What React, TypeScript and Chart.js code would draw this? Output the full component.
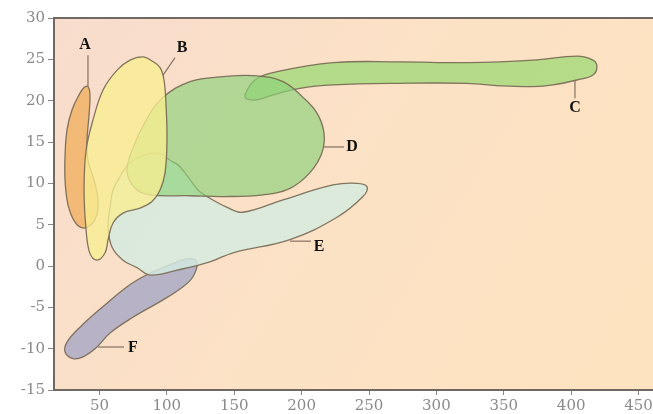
import React, { useEffect, useRef } from "react";
import { Chart, registerables } from "chart.js";

Chart.register(...registerables);

// Axis settings
const xMin = 16.3;
const xMax = 460.7;
const xTicks = [50, 100, 150, 200, 250, 300, 350, 400, 450];
const yMin = -15;
const yMax = 30;
const yStep = 5;

// Region outlines (data coordinates)
const aX = [41.5, 43.0, 42.3, 40.8, 41.5, 46.0, 49.0, 48.2, 43.8, 37.8, 31.9, 26.7, 24.5, 24.5, 26.0, 29.7, 34.9, 38.6];
const aY = [21.7, 20.7, 18.3, 15.2, 12.8, 10.4, 8.0, 6.2, 5.0, 4.6, 5.3, 7.4, 10.4, 13.4, 16.5, 18.9, 20.7, 21.6];

const bX = [82.3, 89.0, 95.0, 97.9, 99.4, 100.1, 98.7, 95.0, 89.0, 80.1, 67.5, 60.1, 56.4, 54.2, 48.2, 43.0, 40.1, 38.6, 40.1, 45.3, 52.7, 63.1, 72.7];
const bY = [25.3, 24.8, 24.0, 22.5, 19.5, 15.2, 11.3, 9.2, 7.8, 7.0, 6.4, 5.2, 3.2, 1.6, 0.7, 1.5, 4.4, 9.2, 14.0, 17.7, 21.3, 23.7, 24.9];

const cX = [158.0, 165.4, 181.8, 223.3, 273.0, 322.7, 371.7, 404.3, 416.2, 419.1, 416.2, 404.3, 386.5, 371.7, 347.2, 322.7, 273.0, 223.3, 198.8, 178.8, 166.9, 159.5];
const cY = [20.7, 22.5, 23.5, 24.6, 24.7, 24.6, 24.9, 25.4, 24.9, 24.1, 23.1, 22.5, 21.9, 21.7, 21.8, 22.1, 22.1, 21.9, 21.5, 20.7, 20.1, 20.2];

const dX = [117.2, 141.7, 166.9, 186.2, 201.0, 211.4, 216.6, 215.1, 206.2, 191.4, 171.4, 141.7, 117.2, 87.5, 76.4, 70.5, 74.2, 83.8, 96.4];
const dY = [22.3, 22.9, 23.0, 22.3, 20.4, 18.5, 16.1, 13.7, 11.3, 9.4, 8.6, 8.4, 8.5, 8.6, 9.4, 11.4, 14.0, 17.4, 20.3];

const eX = [85.3, 95.0, 102.4, 109.8, 123.1, 129.8, 144.7, 156.5, 186.2, 223.3, 241.1, 248.5, 245.5, 226.3, 191.4, 149.1, 132.0, 107.6, 87.5, 77.9, 67.5, 59.3, 56.4, 57.9, 60.1, 65.3, 72.7];
const eY = [13.5, 13.6, 12.8, 12.0, 9.2, 8.4, 7.1, 6.5, 8.0, 9.8, 10.0, 9.6, 8.4, 5.9, 3.2, 1.6, 0.5, -0.5, -1.1, -0.2, 0.7, 2.3, 4.7, 7.1, 9.2, 10.8, 12.5];

const fX = [122.4, 119.4, 112.0, 97.2, 74.9, 57.9, 48.2, 37.8, 30.4, 24.5, 26.0, 35.6, 52.7, 70.5, 82.3, 92.7, 107.6, 117.2];
const fY = [0.4, -1.3, -2.5, -4.1, -6.2, -8.1, -9.8, -11.0, -11.2, -10.4, -9.2, -7.4, -4.9, -2.5, -1.3, -0.5, 0.5, 0.9];

const regionNames = ["B", "A", "D", "C", "E", "F"];
const regionXs = [bX, aX, dX, cX, eX, fX];
const regionYs = [bY, aY, dY, cY, eY, fY];
const regionColors = [
  "rgba(248, 238, 145, 0.78)",
  "rgba(240, 176, 96, 0.8)",
  "rgba(140, 210, 122, 0.66)",
  "rgba(162, 218, 122, 0.8)",
  "rgba(212, 236, 224, 0.82)",
  "rgba(170, 170, 198, 0.85)",
];

// Labels and leader lines
const labelNames = ["A", "B", "C", "D", "E", "F"];
const labelX = [39.3, 111.3, 402.8, 237.4, 212.9, 74.9];
const labelY = [26.7, 26.4, 19.1, 14.4, 2.3, -9.9];
const leaderX1 = [41.5, 106.1, 402.8, 216.6, 191.4, 49.0];
const leaderY1 = [25.5, 25.2, 22.5, 14.4, 3.0, -9.8];
const leaderX2 = [41.5, 97.2, 402.8, 231.5, 207.0, 68.2];
const leaderY2 = [21.7, 23.1, 20.3, 14.4, 3.0, -9.8];

const AXIS_COLOR = "#6f6863";
const TICK_COLOR = "#8a8580";
const LABEL_GRAY = "#8a8a8a";

const backgroundPlugin = {
  id: "plotBackground",
  beforeDraw(chart: any) {
    const { ctx, chartArea } = chart;
    const g = ctx.createLinearGradient(chartArea.left, chartArea.top, chartArea.right, chartArea.bottom);
    g.addColorStop(0, "#f8dccd");
    g.addColorStop(0.5, "#fce2c5");
    g.addColorStop(1, "#fde3bf");
    ctx.save();
    ctx.fillStyle = g;
    ctx.fillRect(chartArea.left, chartArea.top, chartArea.right - chartArea.left, chartArea.bottom - chartArea.top);
    ctx.restore();
  },
  afterDraw(chart: any) {
    const { ctx, chartArea } = chart;
    ctx.save();
    ctx.strokeStyle = AXIS_COLOR;
    ctx.lineWidth = 2;
    ctx.beginPath();
    ctx.moveTo(chartArea.left - 1, chartArea.top);
    ctx.lineTo(chartArea.right, chartArea.top);
    ctx.stroke();
    ctx.restore();
  },
};

const loopPlugin = {
  id: "closedShapes",
  afterDatasetUpdate(chart: any, args: any) {
    const ds = chart.data.datasets[args.index];
    if (ds && ds.closedShape) {
      const meta = chart.getDatasetMeta(args.index);
      if (meta && meta.dataset) {
        meta.dataset._loop = true;
        meta.dataset._fullLoop = true;
      }
    }
  },
};

const textLabelPlugin = {
  id: "regionLabels",
  afterDatasetsDraw(chart: any) {
    const { ctx } = chart;
    const xs = chart.scales.x;
    const ys = chart.scales.y;
    ctx.save();
    ctx.fillStyle = "#111111";
    ctx.font = "bold 16px 'Liberation Serif', 'DejaVu Serif', serif";
    ctx.textAlign = "center";
    ctx.textBaseline = "middle";
    labelNames.forEach((name, i) => {
      ctx.fillText(name, xs.getPixelForValue(labelX[i]), ys.getPixelForValue(labelY[i]));
    });
    ctx.restore();
  },
};

export default function App() {
  const canvasRef = useRef<HTMLCanvasElement | null>(null);

  useEffect(() => {
    if (!canvasRef.current) return;

    const regionSets = regionNames.map((name, i) => ({
      label: name,
      data: regionXs[i].map((x, j) => ({ x, y: regionYs[i][j] })),
      showLine: true,
      closedShape: true,
      fill: "shape",
      backgroundColor: regionColors[i],
      borderColor: "rgba(118, 104, 82, 0.9)",
      borderWidth: 1.3,
      pointRadius: 0,
      tension: 0.4,
    }));

    const leaderSets = labelNames.map((name, i) => ({
      label: "leader " + name,
      data: [
        { x: leaderX1[i], y: leaderY1[i] },
        { x: leaderX2[i], y: leaderY2[i] },
      ],
      showLine: true,
      fill: false,
      borderColor: "rgba(130, 110, 95, 0.9)",
      borderWidth: 1.3,
      pointRadius: 0,
      tension: 0,
    }));

    const chart = new Chart(canvasRef.current, {
      type: "scatter",
      data: { datasets: [...leaderSets, ...regionSets] as any },
      options: {
        animation: false,
        responsive: false,
        events: [],
        layout: { padding: { top: 18, left: 0, right: 0, bottom: 0 } },
        plugins: {
          legend: { display: false },
          tooltip: { enabled: false },
        },
        scales: {
          x: {
            type: "linear",
            min: xMin,
            max: xMax,
            afterBuildTicks: (s: any) => {
              s.ticks = xTicks.map((v) => ({ value: v }));
            },
            afterFit: (s: any) => {
              s.height = 24;
              s.paddingLeft = 0;
              s.paddingRight = 0;
            },
            grid: { display: true, drawOnChartArea: false, drawTicks: true, tickLength: 5, color: TICK_COLOR },
            border: { display: true, color: AXIS_COLOR, width: 2 },
            ticks: {
              color: LABEL_GRAY,
              font: { family: "'DejaVu Serif', serif", size: 15 },
              padding: 2,
              maxRotation: 0,
              autoSkip: false,
            },
          },
          y: {
            type: "linear",
            min: yMin,
            max: yMax,
            ticks: {
              stepSize: yStep,
              color: LABEL_GRAY,
              font: { family: "'DejaVu Serif', serif", size: 15 },
              padding: 3,
            },
            afterFit: (s: any) => {
              s.width = 54;
              s.paddingTop = 0;
              s.paddingBottom = 0;
            },
            grid: { display: true, drawOnChartArea: false, drawTicks: true, tickLength: 6, color: TICK_COLOR },
            border: { display: true, color: AXIS_COLOR, width: 2 },
          },
        },
      },
      plugins: [backgroundPlugin, loopPlugin, textLabelPlugin],
    } as any);

    return () => chart.destroy();
  }, []);

  return (
    <div style={{ position: "fixed", left: 0, top: 0, width: 653, height: 414, background: "#ffffff" }}>
      <canvas ref={canvasRef} width={653} height={414} style={{ display: "block", width: 653, height: 414 }} />
    </div>
  );
}
